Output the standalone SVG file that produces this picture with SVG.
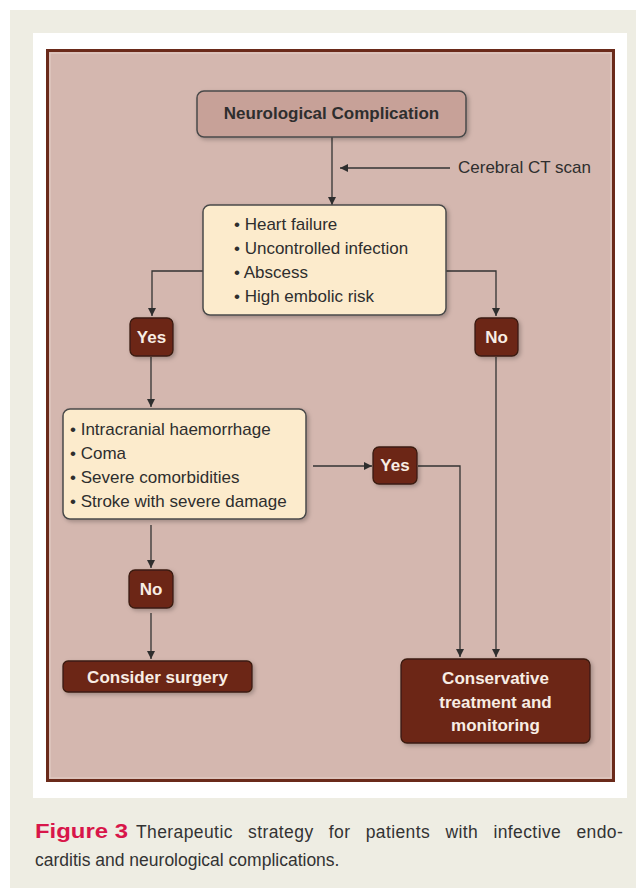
<svg xmlns="http://www.w3.org/2000/svg" width="636" height="888" viewBox="0 0 636 888">
<defs>
<marker id="ah" viewBox="0 0 10 10" refX="10" refY="5" markerWidth="8" markerHeight="8" markerUnits="userSpaceOnUse" orient="auto">
<path d="M0,0 L10,5 L0,10 z" fill="#2e2e2e"/>
</marker>
<filter id="sh" x="-10%" y="-10%" width="125%" height="130%">
<feDropShadow dx="2" dy="2" stdDeviation="2" flood-color="#000" flood-opacity="0.25"/>
</filter>
<style>
.conn{fill:none;stroke:#333;stroke-width:1.3;marker-end:url(#ah)}
.cream{fill:#FCEBCC;stroke:#4a4a4a;stroke-width:1.5;filter:url(#sh)}
.dark{fill:#6C2818;stroke:#3a1a10;stroke-width:1.3;filter:url(#sh)}
.title{fill:#C7A198;stroke:#4a4a4a;stroke-width:1.5;filter:url(#sh)}
.t{font-family:"Liberation Sans",Arial,sans-serif;font-size:17px;fill:#2e2e2e}
.tb{font-family:"Liberation Sans",Arial,sans-serif;font-size:17px;font-weight:bold;fill:#2e2e2e}
.w{font-family:"Liberation Sans",Arial,sans-serif;font-size:17px;font-weight:bold;fill:#F8EDE4}
.cap{font-family:"Liberation Sans",Arial,sans-serif;font-size:17.5px;fill:#333}
</style>
</defs>
<rect x="0" y="0" width="636" height="888" fill="#ffffff"/>
<rect x="10" y="10" width="626" height="878" fill="#EEEDE3"/>
<rect x="33" y="33" width="594" height="765" fill="#ffffff"/>
<rect x="47.5" y="50.5" width="566" height="730" fill="#D4B7AF" stroke="#6A2A1A" stroke-width="3"/>
<rect x="50" y="53" width="561" height="725" fill="none" stroke="#E2CBC4" stroke-width="1.2"/>

<g id="connectors">
<path class="conn" d="M332,137 V205"/>
<path class="conn" d="M450,168 H340"/>
<path class="conn" d="M203,271 H152 V316"/>
<path class="conn" d="M446,271 H496 V316"/>
<path class="conn" d="M151,357 V407"/>
<path class="conn" d="M313,466 H372"/>
<path class="conn" d="M418,466 H460 V657"/>
<path class="conn" d="M496,357 V657"/>
<path class="conn" d="M151,525 V568"/>
<path class="conn" d="M151,613 V659"/>
</g>

<g id="ct-label">
<text class="t" x="458" y="173">Cerebral CT scan</text>
</g>

<g id="neuro">
<rect class="title" x="197" y="91" width="269" height="46" rx="7"/>
<text class="tb" x="331.5" y="119" text-anchor="middle" font-size="18">Neurological Complication</text>
</g>

<g id="criteria1">
<rect class="cream" x="203" y="205" width="243" height="110" rx="7"/>
<text class="t" x="234" y="230">• Heart failure</text>
<text class="t" x="234" y="254">• Uncontrolled infection</text>
<text class="t" x="234" y="278">• Abscess</text>
<text class="t" x="234" y="302">• High embolic risk</text>
</g>

<g id="yes1">
<rect class="dark" x="130" y="318" width="43" height="38" rx="6"/>
<text class="w" x="151.5" y="343" text-anchor="middle">Yes</text>
</g>

<g id="no1">
<rect class="dark" x="475" y="318" width="43" height="38" rx="6"/>
<text class="w" x="496.5" y="343" text-anchor="middle">No</text>
</g>

<g id="criteria2">
<rect class="cream" x="63" y="409" width="243" height="110" rx="7"/>
<text class="t" x="70" y="435">• Intracranial haemorrhage</text>
<text class="t" x="70" y="459">• Coma</text>
<text class="t" x="70" y="483">• Severe comorbidities</text>
<text class="t" x="70" y="507">• Stroke with severe damage</text>
</g>

<g id="yes2">
<rect class="dark" x="373" y="447" width="44" height="37" rx="6"/>
<text class="w" x="395" y="471" text-anchor="middle">Yes</text>
</g>

<g id="no2">
<rect class="dark" x="129" y="570" width="44" height="38" rx="6"/>
<text class="w" x="151" y="595" text-anchor="middle">No</text>
</g>

<g id="surgery">
<rect class="dark" x="63" y="661" width="189" height="31" rx="5"/>
<text class="w" x="157.5" y="683" text-anchor="middle">Consider surgery</text>
</g>

<g id="conservative">
<rect class="dark" x="401" y="659" width="189" height="84" rx="6"/>
<text class="w" x="495.5" y="684" text-anchor="middle">Conservative</text>
<text class="w" x="495.5" y="708" text-anchor="middle">treatment and</text>
<text class="w" x="495.5" y="731" text-anchor="middle">monitoring</text>
</g>

<g id="caption">
<text x="35" y="838" font-family="Liberation Sans,Arial,sans-serif" font-size="21px" font-weight="bold" fill="#D8164A" textLength="93" lengthAdjust="spacingAndGlyphs">Figure 3</text>
<text class="cap" x="136" y="838" letter-spacing="0.4" word-spacing="10">Therapeutic strategy for patients with infective endo-</text>
<text class="cap" x="35" y="866">carditis and neurological complications.</text>
</g>
</svg>
